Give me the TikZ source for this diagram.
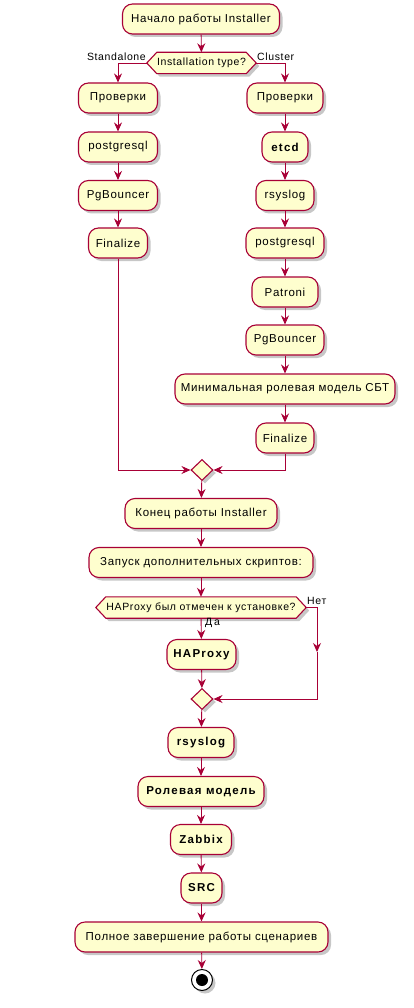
\documentclass[tikz,border=0pt]{standalone}
\usepackage{fontspec}
\setmainfont{Liberation Sans}[LetterSpace=6]
\newfontfamily\boldwide{Liberation Sans}[LetterSpace=11]
\usetikzlibrary{arrows.meta,shadows,calc,shapes.geometric,backgrounds}
\definecolor{pfill}{HTML}{FEFECE}
\definecolor{pline}{HTML}{A80036}
\begin{document}
\begin{tikzpicture}[x=1pt,y=-1pt,
  shad/.style={drop shadow={shadow xshift=3pt,shadow yshift=-3pt,opacity=0.22,fill=black}},
  act/.style={draw=pline, fill=pfill, line width=1.1pt, rounded corners=10pt, inner sep=0pt,
    minimum height=30pt, font=\fontsize{11.5}{13}\selectfont, shad},
  bact/.style={act, font=\fontsize{11.5}{13}\boldwide\bfseries},
  hexnode/.style={inner sep=0pt, minimum height=21pt, font=\fontsize{10.5}{12}\selectfont},
  hexpath/.style={draw=pline, fill=pfill, line width=1.1pt},
  merge/.style={diamond, draw=pline, fill=pfill, line width=1.1pt, inner sep=0pt,
    minimum width=22pt, minimum height=21pt, shad},
  lbl/.style={inner sep=0pt, font=\fontsize{10.5}{12}\selectfont},
  arr/.style={draw=pline, line width=0.9pt, -{Stealth[length=9pt,width=8pt,inset=3pt]}},
  ln/.style={draw=pline, line width=0.9pt}]
\useasboundingbox (0,0) rectangle (413,1008);

% start
\node[act, minimum width=157pt] (start) at (201,19) {Начало работы Installer};
\node[hexnode, minimum width=109pt] (dec1) at (201.5,63) {Installation type?};
\node[lbl, anchor=south east] (lS) at (146,61) {Standalone};
\node[lbl, anchor=south west] (lC) at (257,61) {Cluster};

% left branch
\node[act, minimum width=79pt] (lp) at (118,98) {Проверки};
\node[act, minimum width=79pt] (lpg) at (118,147) {postgresql};
\node[act, minimum width=79pt] (lpb) at (118,195.5) {PgBouncer};
\node[act, minimum width=59pt] (lf) at (118,243) {Finalize};

% right branch
\node[act, minimum width=76pt] (rp) at (285,98) {Проверки};
\node[bact, minimum width=46pt] (retcd) at (285,147) {etcd};
\node[act, minimum width=58pt] (rrs) at (285,195.5) {rsyslog};
\node[act, minimum width=78pt] (rpg) at (285,243) {postgresql};
\node[act, minimum width=66pt] (rpat) at (285,292) {Patroni};
\node[act, minimum width=78pt] (rpb) at (285,340) {PgBouncer};
\node[act, minimum width=220pt] (rmin) at (285,389) {Минимальная ролевая модель СБТ};
\node[act, minimum width=58pt] (rf) at (285,438) {Finalize};

\node[merge] (m1) at (202,470) {};

\node[act, minimum width=152pt] (endi) at (201,513.5) {Конец работы Installer};
\node[act, minimum width=224pt] (zap) at (201,562.5) {Запуск дополнительных скриптов:};
\node[hexnode, minimum width=210pt] (dec2) at (201,607.5) {HAProxy был отмечен к установке?};
\node[lbl, anchor=south west] (lN) at (307,605) {Нет};
\node[lbl, anchor=north west] (lD) at (205,618) {Д\,а};
\node[bact, minimum width=69pt] (hap) at (201.5,654.5) {HAProxy};
\node[merge] (m2) at (202,699) {};
\coordinate (c1) at (317,607.5);
\coordinate (c2) at (317,652);
\coordinate (c3) at (317,699);

\node[bact, minimum width=66pt] (rs) at (201,742.5) {rsyslog};
\node[bact, minimum width=126pt] (rm) at (201,791.5) {Ролевая модель};
\node[bact, minimum width=61pt] (zb) at (201,839.5) {Zabbix};
\node[bact, minimum width=41pt] (src) at (201.5,888) {SRC};
\node[act, minimum width=253pt] (full) at (201.5,937) {Полное завершение работы сценариев};
\node[circle, draw=black, fill=white, line width=1pt, minimum size=21pt, inner sep=0pt, shad] (stop) at (202,980) {};
\fill[black] (stop.center) circle (6);

% hexagons
\begin{scope}[on background layer]
  \foreach \h in {dec1,dec2}{
    \path[hexpath, shad] (\h.west) -- ($(\h.north west)+(10,0)$) -- ($(\h.north east)+(-10,0)$)
      -- (\h.east) -- ($(\h.south east)+(-10,0)$) -- ($(\h.south west)+(10,0)$) -- cycle;
  }
\end{scope}

% connectors
\draw[arr] (start) -- (dec1);
\draw[arr] (dec1.west) -| (lp.north);
\draw[arr] (dec1.east) -| (rp.north);
\draw[arr] (lp) -- (lpg);
\draw[arr] (lpg) -- (lpb);
\draw[arr] (lpb) -- (lf);
\draw[arr] (rp) -- (retcd);
\draw[arr] (retcd) -- (rrs);
\draw[arr] (rrs) -- (rpg);
\draw[arr] (rpg) -- (rpat);
\draw[arr] (rpat) -- (rpb);
\draw[arr] (rpb) -- (rmin);
\draw[arr] (rmin) -- (rf);
\draw[arr] (lf.south) |- (m1.west);
\draw[arr] (rf.south) |- (m1.east);
\draw[arr] (m1) -- (endi);
\draw[arr] (endi) -- (zap);
\draw[arr] (zap) -- (dec2);
\draw[arr] (dec2) -- (hap);
\draw[arr] (dec2.east) -- (c1) -- (c2);
\draw[arr] (c2) -- (c3) -- (m2.east);
\draw[arr] (hap) -- (m2);
\draw[arr] (m2) -- (rs);
\draw[arr] (rs) -- (rm);
\draw[arr] (rm) -- (zb);
\draw[arr] (zb) -- (src);
\draw[arr] (src) -- (full);
\draw[arr] (full) -- (stop);
\end{tikzpicture}
\end{document}
